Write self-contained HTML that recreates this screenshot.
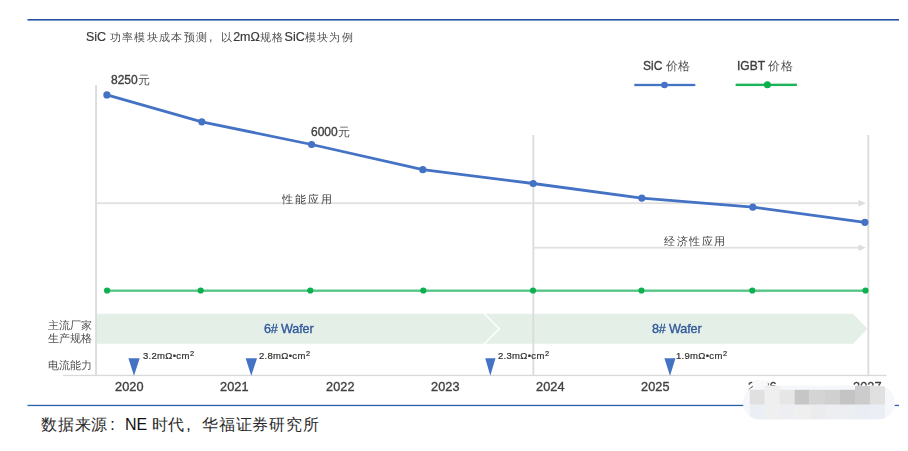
<!DOCTYPE html>
<html><head><meta charset="utf-8">
<style>
html,body{margin:0;padding:0;background:#fff;}
body{width:908px;height:451px;position:relative;overflow:hidden;font-family:"Liberation Sans",sans-serif;color:#404040;}
.t{position:absolute;white-space:nowrap;line-height:1;-webkit-font-smoothing:antialiased;will-change:transform;-webkit-text-stroke:0.35px currentColor;}
.c{-webkit-text-stroke:0;}
svg{position:absolute;left:0;top:0;}
</style></head><body>
<svg width="908" height="451" viewBox="0 0 908 451">
  <!-- top / bottom rules -->
  <rect x="27.5" y="19" width="871.5" height="1.6" fill="#2552a2"/>
  <rect x="27.5" y="404.8" width="871.5" height="1.3" fill="#2b5fab"/>
  <!-- band -->
  <polygon points="97,313.8 483.4,313.8 498.3,328.8 483.4,343.8 97,343.8" fill="#e4efe8"/>
  <polygon points="485.4,313.8 853,313.8 867.5,328.8 853,343.8 485.4,343.8 500.3,328.8" fill="#e4efe8"/>
  <!-- axes & grid -->
  <rect x="95.1" y="85" width="1.9" height="291" fill="#dcdcdc"/>
  <rect x="532.4" y="135" width="1.9" height="241" fill="#dcdcdc"/>
  <rect x="867.4" y="135" width="1.9" height="241" fill="#dcdcdc"/>
  <rect x="63" y="374.8" width="823.5" height="1.3" fill="#d9d9d9"/>
  <!-- arrows -->
  <rect x="96" y="202.3" width="763" height="1.8" fill="#e0e0e0"/>
  <polygon points="858.5,200 865.8,203.2 858.5,206.4" fill="#dcdcdc"/>
  <rect x="533" y="246.8" width="326" height="1.8" fill="#e0e0e0"/>
  <polygon points="858.5,244.5 865.8,247.7 858.5,250.9" fill="#dcdcdc"/>
  <!-- SiC line -->
  <polyline points="106.9,94.9 201.8,121.8 311.6,144.5 422.8,169.7 533.2,183.5 641.8,198.1 752.8,207.2 864.9,222.3" fill="none" stroke="#4472c4" stroke-width="2.8" stroke-linejoin="round"/>
  <g fill="#4472c4">
    <circle cx="106.9" cy="94.9" r="3.6"/><circle cx="201.8" cy="121.8" r="3.6"/><circle cx="311.6" cy="144.5" r="3.6"/><circle cx="422.8" cy="169.7" r="3.6"/><circle cx="533.2" cy="183.5" r="3.6"/><circle cx="641.8" cy="198.1" r="3.6"/><circle cx="752.8" cy="207.2" r="3.6"/><circle cx="864.9" cy="222.3" r="3.6"/>
  </g>
  <!-- IGBT line -->
  <rect x="107" y="289.55" width="758.5" height="2.3" fill="#52c484"/>
  <g fill="#0cb04f">
    <circle cx="107.1" cy="290.5" r="3.1"/><circle cx="200.7" cy="290.5" r="3.1"/><circle cx="310.3" cy="290.5" r="3.1"/><circle cx="423.3" cy="290.5" r="3.1"/><circle cx="533" cy="290.5" r="3.1"/><circle cx="641.5" cy="290.5" r="3.1"/><circle cx="752.3" cy="290.5" r="3.1"/><circle cx="865.5" cy="290.5" r="3.1"/>
  </g>
  <!-- legend -->
  <rect x="634.3" y="83.85" width="61" height="2.3" fill="#4472c4"/>
  <circle cx="664.5" cy="85" r="3.3" fill="#4472c4"/>
  <rect x="735.6" y="83.65" width="61.3" height="2.4" fill="#1cb35a"/>
  <circle cx="767.4" cy="84.7" r="3.5" fill="#0cb04f"/>
  <!-- triangles -->
  <g fill="#4472c4">
    <polygon points="128.4,358.2 139.7,358.2 134,375.8"/>
    <polygon points="245.6,358.2 257,358.2 251.3,375.8"/>
    <polygon points="485.2,358.2 495.5,358.2 490.3,375.8"/>
    <polygon points="664.4,358.2 675.5,358.2 670,375.8"/>
  </g>
</svg>

<div class="t" style="left:86px;top:30.5px;font-size:12.5px;color:#3a3a3a;-webkit-text-stroke:0.2px currentColor;">SiC <span class="c" style="font-size:11px;letter-spacing:1.35px;color:#505050;">功率模块成本预测</span><span style="display:inline-block;width:12.35px;text-indent:0.5px;-webkit-text-stroke:0;color:#505050;">,</span><span class="c" style="font-size:11px;letter-spacing:1.35px;color:#505050;">以</span>2mΩ<span class="c" style="font-size:11px;letter-spacing:1.35px;color:#505050;">规格</span>SiC<span class="c" style="font-size:11px;letter-spacing:1.35px;color:#505050;">模块为例</span></div>
<div class="t" style="left:111px;top:74px;font-size:12px;">8250<span class="c" style="font-size:11.5px;color:#505050;">元</span></div>
<div class="t" style="left:311px;top:125.5px;font-size:12px;">6000<span class="c" style="font-size:11.5px;color:#505050;">元</span></div>
<div class="t" style="left:643px;top:60px;font-size:12px;">SiC <span class="c" style="font-size:11.5px;letter-spacing:0.8px;color:#505050;">价格</span></div>
<div class="t" style="left:736.5px;top:60px;font-size:12px;">IGBT <span class="c" style="font-size:11.5px;letter-spacing:0.8px;color:#505050;">价格</span></div>
<div class="t c" style="left:282.3px;top:193.6px;font-size:10.5px;letter-spacing:1.85px;color:#404040;">性能应用</div>
<div class="t c" style="left:664.2px;top:235.8px;font-size:10.5px;letter-spacing:1.6px;color:#404040;">经济性应用</div>
<div class="t" style="left:264.1px;top:323.2px;font-size:12.6px;letter-spacing:-0.15px;color:#30589a;">6# Wafer</div>
<div class="t" style="left:651.5px;top:323.2px;font-size:12.6px;letter-spacing:-0.15px;color:#30589a;">8# Wafer</div>
<div class="t c" style="left:48px;top:320px;font-size:10.5px;letter-spacing:0px;color:#505050;">主流厂家</div>
<div class="t c" style="left:48px;top:333px;font-size:10.5px;letter-spacing:0px;color:#505050;">生产规格</div>
<div class="t c" style="left:48px;top:360px;font-size:10.5px;letter-spacing:0px;color:#505050;">电流能力</div>
<div class="t" style="left:143px;top:350.5px;font-size:9.5px;letter-spacing:0.3px;color:#303030;-webkit-text-stroke:0.2px currentColor;">3.2mΩ•cm<span style="position:relative;top:-3.4px;font-size:7.4px;margin-left:0.3px;">2</span></div>
<div class="t" style="left:259px;top:350.5px;font-size:9.5px;letter-spacing:0.3px;color:#303030;-webkit-text-stroke:0.2px currentColor;">2.8mΩ•cm<span style="position:relative;top:-3.4px;font-size:7.4px;margin-left:0.3px;">2</span></div>
<div class="t" style="left:498px;top:350.5px;font-size:9.5px;letter-spacing:0.3px;color:#303030;-webkit-text-stroke:0.2px currentColor;">2.3mΩ•cm<span style="position:relative;top:-3.4px;font-size:7.4px;margin-left:0.3px;">2</span></div>
<div class="t" style="left:676px;top:350.5px;font-size:9.5px;letter-spacing:0.3px;color:#303030;-webkit-text-stroke:0.2px currentColor;">1.9mΩ•cm<span style="position:relative;top:-3.4px;font-size:7.4px;margin-left:0.3px;">2</span></div>
<div class="t" style="left:115.2px;top:381px;font-size:12.7px;letter-spacing:0.1px;-webkit-text-stroke:0.35px currentColor;">2020</div>
<div class="t" style="left:220.4px;top:381px;font-size:12.7px;letter-spacing:0.1px;-webkit-text-stroke:0.35px currentColor;">2021</div>
<div class="t" style="left:326.4px;top:381px;font-size:12.7px;letter-spacing:0.1px;-webkit-text-stroke:0.35px currentColor;">2022</div>
<div class="t" style="left:431.2px;top:381px;font-size:12.7px;letter-spacing:0.1px;-webkit-text-stroke:0.35px currentColor;">2023</div>
<div class="t" style="left:536px;top:381px;font-size:12.7px;letter-spacing:0.1px;-webkit-text-stroke:0.35px currentColor;">2024</div>
<div class="t" style="left:641.2px;top:381px;font-size:12.7px;letter-spacing:0.1px;-webkit-text-stroke:0.35px currentColor;">2025</div>
<div class="t" style="left:41px;top:416.5px;font-size:16px;color:#111;-webkit-text-stroke:0;will-change:auto;"><span class="c" style="letter-spacing:0.8px;color:#2a2a2a;">数据来源</span><span style="display:inline-block;width:16.8px;text-indent:2px;">:</span>NE <span class="c" style="letter-spacing:0.8px;color:#2a2a2a;">时代</span><span style="display:inline-block;width:16.8px;text-indent:1px;">,</span><span class="c" style="letter-spacing:0.8px;color:#2a2a2a;">华福证券研究所</span></div>
<div class="t" style="left:747.5px;top:381px;font-size:12.7px;letter-spacing:0.1px;-webkit-text-stroke:0.35px currentColor;">2026</div>
<div class="t" style="left:852.8px;top:381px;font-size:12.7px;letter-spacing:0.1px;-webkit-text-stroke:0.35px currentColor;">2027</div>
<svg width="908" height="451" viewBox="0 0 908 451">
  <defs><clipPath id="bl"><rect x="743" y="385.5" width="152" height="34" rx="17"/></clipPath></defs>
  <rect x="752" y="380" width="16" height="8" rx="4" fill="#f9f9f9"/>
  <g clip-path="url(#bl)">
    <rect x="740" y="384" width="160" height="40" fill="#f6f7fa"/>
    <rect x="749.8" y="389.8" width="15" height="15" fill="#e0e0e0"/>
    <rect x="764.7" y="386" width="15" height="18.8" fill="#efefef"/>
    <rect x="779.6" y="389.8" width="15" height="15" fill="#e6e6e6"/>
    <rect x="794.6" y="389.8" width="15" height="15" fill="#c6c6c6"/>
    <rect x="809.5" y="389.8" width="15.5" height="15" fill="#d4d4d4"/>
    <rect x="825" y="389.8" width="15" height="15" fill="#d0d0d0"/>
    <rect x="840" y="389.8" width="15" height="15" fill="#c4c4c4"/>
    <rect x="855" y="386" width="15" height="18.8" fill="#cccccc"/>
    <rect x="870" y="386" width="15" height="18.8" fill="#e0e0e0"/>
    <rect x="749.8" y="404.7" width="15" height="15" fill="#eceef5"/>
    <rect x="764.7" y="404.7" width="15" height="15" fill="#efefef"/>
    <rect x="779.6" y="404.7" width="15" height="15" fill="#eceef2"/>
    <rect x="794.6" y="404.7" width="15" height="15" fill="#efefef"/>
    <rect x="809.5" y="404.7" width="15.5" height="15" fill="#ececee"/>
    <rect x="825" y="404.7" width="15" height="15" fill="#eceef2"/>
    <rect x="840" y="404.7" width="15" height="15" fill="#edeef2"/>
    <rect x="855" y="404.7" width="15" height="15" fill="#eaedf3"/>
    <rect x="870" y="404.7" width="15" height="15" fill="#ebeef5"/>
  </g>
</svg>
</body></html>
